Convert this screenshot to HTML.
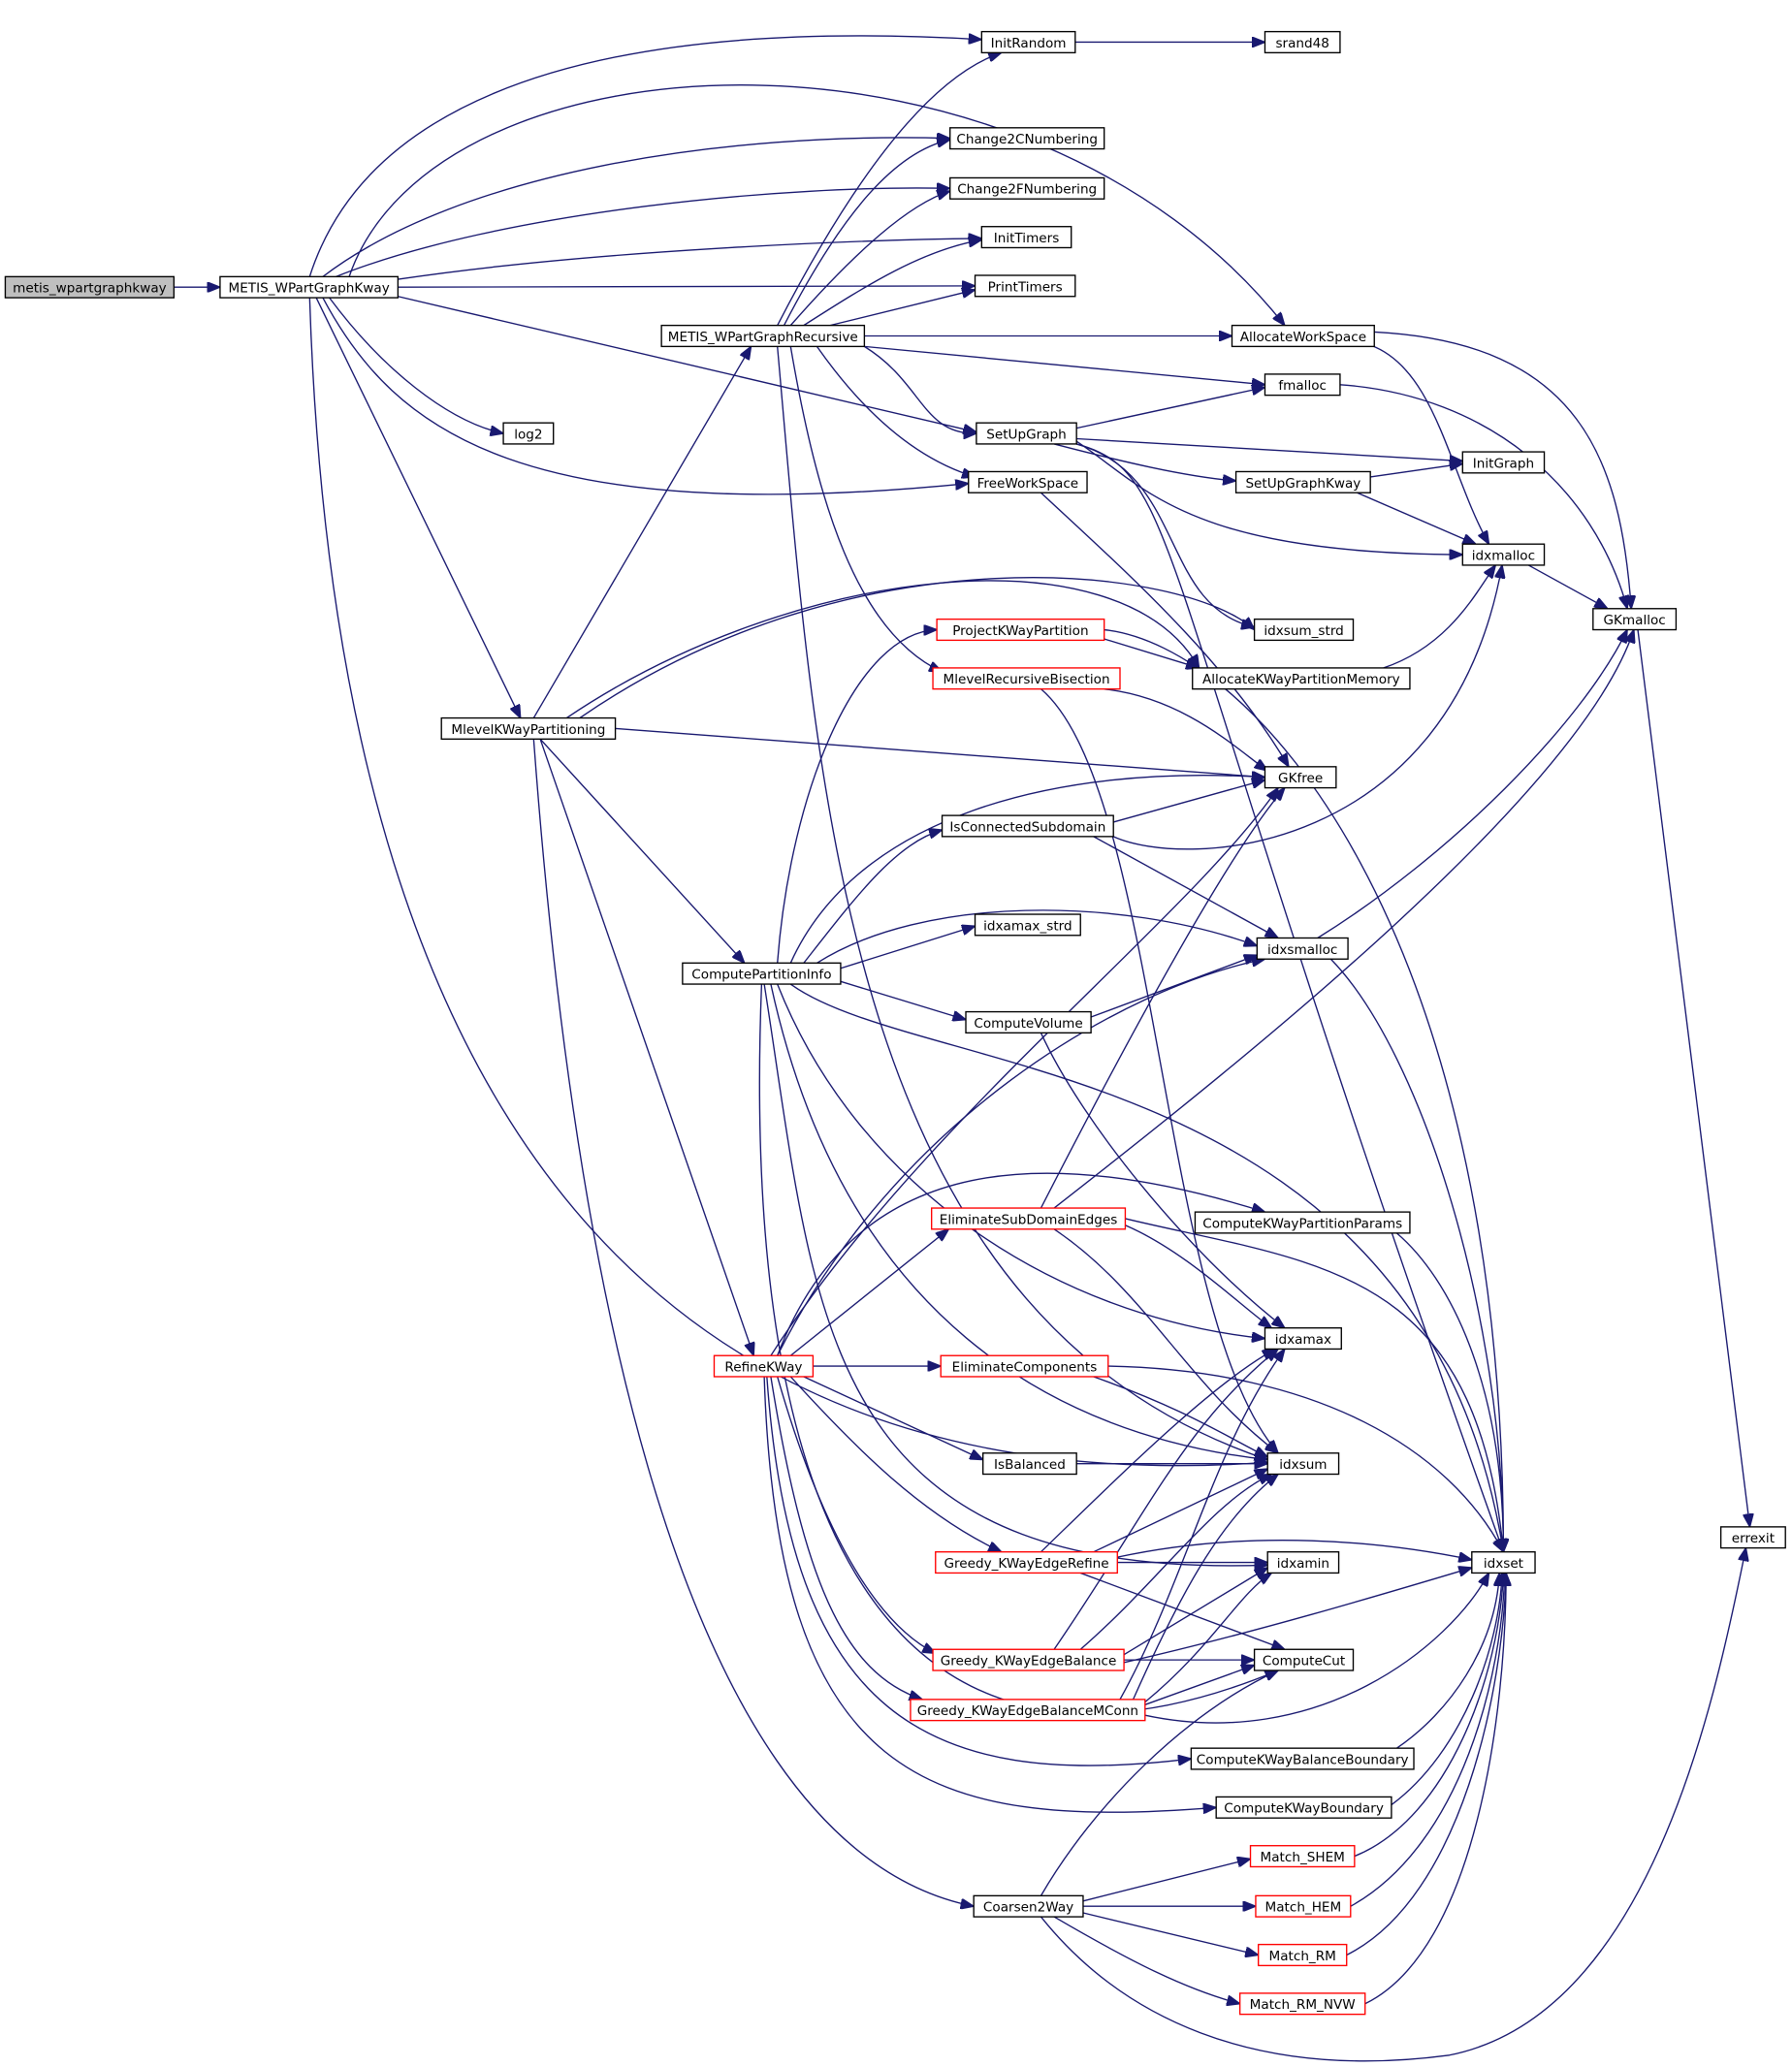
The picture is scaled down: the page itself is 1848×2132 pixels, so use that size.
<!DOCTYPE html>
<html><head><meta charset="utf-8"><style>
html,body{margin:0;padding:0;background:#fff;}
svg{display:block;}
text{font-family:"DejaVu Sans","Liberation Sans",sans-serif;font-size:10px;fill:#000;}
.e{fill:none;stroke:#191970;stroke-width:1;}
.n{fill:#fff;stroke:#000;stroke-width:1;}
.r{fill:#fff;stroke:#ff0000;stroke-width:1;}
</style></head><body>
<svg width="1848" height="2132" viewBox="0 0 1360 1569" xmlns="http://www.w3.org/2000/svg">
<defs><marker id="a" markerWidth="10" markerHeight="8" refX="10" refY="4" orient="auto" markerUnits="userSpaceOnUse"><path d="M0,0 L10,4 L0,8 z" fill="#191970" stroke="#191970"/></marker></defs>
<g class="e" marker-end="url(#a)">
<path d="M132,218 L167,218"/>
<path d="M816,32 L960,32"/>
<path d="M235,210 C270,100 400,10 745,30"/>
<path d="M245,210 C350,130 550,100 721,105"/>
<path d="M255,210 C380,160 600,140 721,143"/>
<path d="M302,212 C450,190 650,182 745,181"/>
<path d="M302,218 L740,217"/>
<path d="M265,210 C330,20 780,0 975,247"/>
<path d="M302,225 L741,328"/>
<path d="M250,226 C290,280 340,320 382,329"/>
<path d="M245,226 C300,330 400,400 735,367"/>
<path d="M240,226 L395,545"/>
<path d="M235,226 C250,700 400,1150 962,1110"/>
<path d="M590,247 C640,150 700,60 760,40"/>
<path d="M595,247 C640,160 680,115 721,106"/>
<path d="M600,247 C650,190 690,155 721,145"/>
<path d="M610,247 C660,215 700,190 745,182"/>
<path d="M630,247 L740,220"/>
<path d="M656,255 L935,255"/>
<path d="M656,263 L960,292"/>
<path d="M656,263 C700,290 700,330 741,329"/>
<path d="M620,263 C660,320 700,350 740,362"/>
<path d="M600,263 C620,380 650,480 715,510"/>
<path d="M590,263 C620,600 640,1000 962,1108"/>
<path d="M817,325 L960,294"/>
<path d="M817,333 L1110,350"/>
<path d="M800,337 C850,350 900,362 938,365"/>
<path d="M817,335 C870,370 900,420 1110,421"/>
<path d="M817,337 C900,360 880,460 952,476"/>
<path d="M817,337 C900,360 870,420 1141,1178"/>
<path d="M1040,362 L1110,352"/>
<path d="M1030,374 L1120,413"/>
<path d="M1043,252 C1200,260 1230,350 1238,462"/>
<path d="M1040,262 C1090,280 1100,360 1130,413"/>
<path d="M1017,292 C1130,300 1210,370 1235,462"/>
<path d="M1160,429 L1220,462"/>
<path d="M1243,478 L1328,1159"/>
<path d="M790,374 C850,430 930,500 978,582"/>
<path d="M838,485 L910,507"/>
<path d="M838,478 C950,490 1141,700 1141,1178"/>
<path d="M838,523 C900,530 940,570 962,585"/>
<path d="M790,523 C880,600 880,1000 970,1103"/>
<path d="M1050,507 C1100,490 1120,450 1135,429"/>
<path d="M405,545 L570,263"/>
<path d="M430,545 C600,430 850,400 910,507"/>
<path d="M440,545 C650,400 900,430 952,478"/>
<path d="M467,553 L960,590"/>
<path d="M410,561 L565,731"/>
<path d="M410,561 L572,1029"/>
<path d="M405,561 C430,900 500,1400 739,1447"/>
<path d="M590,731 C600,600 650,480 711,478"/>
<path d="M600,731 C650,620 800,580 960,590"/>
<path d="M610,731 C650,680 680,640 715,630"/>
<path d="M620,731 C700,680 850,680 954,718"/>
<path d="M638,735 L740,703"/>
<path d="M638,745 L733,774"/>
<path d="M600,747 C700,820 1080,800 1141,1178"/>
<path d="M590,747 C650,900 800,1000 960,1016"/>
<path d="M585,747 C640,1000 800,1090 962,1108"/>
<path d="M580,747 C620,1000 620,1200 962,1188"/>
<path d="M578,747 C560,1200 700,1380 970,1268"/>
<path d="M845,624 L960,592"/>
<path d="M845,635 C900,660 1100,650 1140,429"/>
<path d="M830,635 L970,712"/>
<path d="M828,772 L954,725"/>
<path d="M790,784 C820,850 900,950 975,1008"/>
<path d="M1000,712 C1100,650 1200,550 1235,478"/>
<path d="M1010,728 C1080,800 1141,1000 1141,1178"/>
<path d="M790,917 C850,800 930,650 975,598"/>
<path d="M800,917 C950,800 1200,600 1240,478"/>
<path d="M854,930 C900,950 940,990 965,1008"/>
<path d="M800,933 C870,980 900,1050 970,1103"/>
<path d="M854,925 C1000,960 1120,960 1141,1178"/>
<path d="M1060,936 C1100,970 1141,1050 1141,1178"/>
<path d="M590,1029 C650,870 800,870 960,920"/>
<path d="M600,1029 L720,933"/>
<path d="M590,1029 C680,850 850,750 960,728"/>
<path d="M585,1029 C700,850 900,700 970,598"/>
<path d="M617,1037 L714,1037"/>
<path d="M610,1045 L746,1108"/>
<path d="M600,1045 C650,1100 700,1150 760,1178"/>
<path d="M590,1045 C620,1150 660,1230 710,1255"/>
<path d="M585,1045 C610,1200 640,1270 700,1290"/>
<path d="M582,1045 C600,1300 700,1360 904,1335"/>
<path d="M580,1045 C590,1350 700,1390 923,1372"/>
<path d="M830,1045 C900,1070 930,1090 962,1106"/>
<path d="M841,1037 C1000,1040 1100,1100 1141,1178"/>
<path d="M817,1111 L962,1111"/>
<path d="M790,1178 C850,1120 920,1050 968,1024"/>
<path d="M830,1178 L962,1115"/>
<path d="M848,1186 L962,1186"/>
<path d="M848,1182 C950,1160 1050,1170 1117,1184"/>
<path d="M820,1194 L975,1252"/>
<path d="M800,1252 C870,1150 900,1080 970,1024"/>
<path d="M820,1252 C880,1200 920,1140 965,1119"/>
<path d="M853,1256 L962,1190"/>
<path d="M853,1262 C950,1240 1050,1210 1117,1190"/>
<path d="M853,1260 L952,1260"/>
<path d="M850,1290 C900,1200 920,1100 975,1024"/>
<path d="M860,1290 C900,1200 930,1150 970,1119"/>
<path d="M869,1292 C920,1250 940,1210 965,1194"/>
<path d="M869,1294 L952,1264"/>
<path d="M869,1302 C1000,1330 1100,1250 1130,1194"/>
<path d="M1060,1327 C1100,1300 1135,1250 1138,1194"/>
<path d="M1056,1370 C1110,1330 1138,1250 1140,1194"/>
<path d="M1028,1409 C1100,1380 1138,1270 1141,1194"/>
<path d="M1025,1447 C1110,1400 1140,1270 1142,1194"/>
<path d="M1022,1484 C1110,1440 1141,1280 1143,1194"/>
<path d="M1036,1521 C1120,1480 1143,1300 1143,1194"/>
<path d="M822,1443 L949,1411"/>
<path d="M822,1447 L953,1447"/>
<path d="M822,1452 L955,1484"/>
<path d="M800,1455 C860,1490 900,1510 941,1521"/>
<path d="M790,1455 C850,1530 950,1580 1100,1560 C1250,1530 1300,1300 1325,1175"/>
<path d="M790,1439 C830,1370 900,1300 970,1268"/>
</g>
<g>
<rect x="4" y="210" width="128" height="16" fill="#bfbfbf" stroke="#000"/><text x="68" y="222" text-anchor="middle">metis_wpartgraphkway</text>
<rect class="n" x="167" y="210" width="135" height="16"/><text x="234.5" y="222" text-anchor="middle">METIS_WPartGraphKway</text>
<rect class="n" x="745" y="24" width="71" height="16"/><text x="780.5" y="36" text-anchor="middle">InitRandom</text>
<rect class="n" x="960" y="24" width="57" height="16"/><text x="988.5" y="36" text-anchor="middle">srand48</text>
<rect class="n" x="721" y="97" width="117" height="16"/><text x="779.5" y="109" text-anchor="middle">Change2CNumbering</text>
<rect class="n" x="721" y="135" width="117" height="16"/><text x="779.5" y="147" text-anchor="middle">Change2FNumbering</text>
<rect class="n" x="745" y="172" width="68" height="16"/><text x="779" y="184" text-anchor="middle">InitTimers</text>
<rect class="n" x="740" y="209" width="76" height="16"/><text x="778" y="221" text-anchor="middle">PrintTimers</text>
<rect class="n" x="502" y="247" width="154" height="16"/><text x="579" y="259" text-anchor="middle">METIS_WPartGraphRecursive</text>
<rect class="n" x="935" y="247" width="108" height="16"/><text x="989" y="259" text-anchor="middle">AllocateWorkSpace</text>
<rect class="n" x="960" y="284" width="57" height="16"/><text x="988.5" y="296" text-anchor="middle">fmalloc</text>
<rect class="n" x="741" y="321" width="76" height="16"/><text x="779" y="333" text-anchor="middle">SetUpGraph</text>
<rect class="n" x="382" y="321" width="38" height="16"/><text x="401" y="333" text-anchor="middle">log2</text>
<rect class="n" x="1110" y="343" width="62" height="16"/><text x="1141" y="355" text-anchor="middle">InitGraph</text>
<rect class="n" x="938" y="358" width="102" height="16"/><text x="989" y="370" text-anchor="middle">SetUpGraphKway</text>
<rect class="n" x="735" y="358" width="90" height="16"/><text x="780" y="370" text-anchor="middle">FreeWorkSpace</text>
<rect class="n" x="1110" y="413" width="62" height="16"/><text x="1141" y="425" text-anchor="middle">idxmalloc</text>
<rect class="n" x="1209" y="462" width="63" height="16"/><text x="1240.5" y="474" text-anchor="middle">GKmalloc</text>
<rect class="n" x="952" y="470" width="75" height="16"/><text x="989.5" y="482" text-anchor="middle">idxsum_strd</text>
<rect class="r" x="711" y="470" width="127" height="16"/><text x="774.5" y="482" text-anchor="middle">ProjectKWayPartition</text>
<rect class="n" x="905" y="507" width="165" height="16"/><text x="987.5" y="519" text-anchor="middle">AllocateKWayPartitionMemory</text>
<rect class="r" x="708" y="507" width="142" height="16"/><text x="779" y="519" text-anchor="middle">MlevelRecursiveBisection</text>
<rect class="n" x="335" y="545" width="132" height="16"/><text x="401" y="557" text-anchor="middle">MlevelKWayPartitioning</text>
<rect class="n" x="960" y="582" width="54" height="16"/><text x="987" y="594" text-anchor="middle">GKfree</text>
<rect class="n" x="715" y="619" width="130" height="16"/><text x="780" y="631" text-anchor="middle">IsConnectedSubdomain</text>
<rect class="n" x="740" y="694" width="80" height="16"/><text x="780" y="706" text-anchor="middle">idxamax_strd</text>
<rect class="n" x="954" y="712" width="69" height="16"/><text x="988.5" y="724" text-anchor="middle">idxsmalloc</text>
<rect class="n" x="518" y="731" width="120" height="16"/><text x="578" y="743" text-anchor="middle">ComputePartitionInfo</text>
<rect class="n" x="733" y="768" width="95" height="16"/><text x="780.5" y="780" text-anchor="middle">ComputeVolume</text>
<rect class="r" x="707" y="917" width="147" height="16"/><text x="780.5" y="929" text-anchor="middle">EliminateSubDomainEdges</text>
<rect class="n" x="907" y="920" width="163" height="16"/><text x="988.5" y="932" text-anchor="middle">ComputeKWayPartitionParams</text>
<rect class="n" x="960" y="1008" width="58" height="16"/><text x="989" y="1020" text-anchor="middle">idxamax</text>
<rect class="r" x="542" y="1029" width="75" height="16"/><text x="579.5" y="1041" text-anchor="middle">RefineKWay</text>
<rect class="r" x="714" y="1029" width="127" height="16"/><text x="777.5" y="1041" text-anchor="middle">EliminateComponents</text>
<rect class="n" x="746" y="1103" width="71" height="16"/><text x="781.5" y="1115" text-anchor="middle">IsBalanced</text>
<rect class="n" x="962" y="1103" width="54" height="16"/><text x="989" y="1115" text-anchor="middle">idxsum</text>
<rect class="n" x="1306" y="1159" width="49" height="16"/><text x="1330.5" y="1171" text-anchor="middle">errexit</text>
<rect class="r" x="710" y="1178" width="138" height="16"/><text x="779" y="1190" text-anchor="middle">Greedy_KWayEdgeRefine</text>
<rect class="n" x="962" y="1178" width="54" height="16"/><text x="989" y="1190" text-anchor="middle">idxamin</text>
<rect class="n" x="1117" y="1178" width="48" height="16"/><text x="1141" y="1190" text-anchor="middle">idxset</text>
<rect class="r" x="708" y="1252" width="145" height="16"/><text x="780.5" y="1264" text-anchor="middle">Greedy_KWayEdgeBalance</text>
<rect class="n" x="952" y="1252" width="75" height="16"/><text x="989.5" y="1264" text-anchor="middle">ComputeCut</text>
<rect class="r" x="691" y="1290" width="178" height="16"/><text x="780" y="1302" text-anchor="middle">Greedy_KWayEdgeBalanceMConn</text>
<rect class="n" x="904" y="1327" width="169" height="16"/><text x="988.5" y="1339" text-anchor="middle">ComputeKWayBalanceBoundary</text>
<rect class="n" x="923" y="1364" width="133" height="16"/><text x="989.5" y="1376" text-anchor="middle">ComputeKWayBoundary</text>
<rect class="r" x="949" y="1401" width="79" height="16"/><text x="988.5" y="1413" text-anchor="middle">Match_SHEM</text>
<rect class="n" x="739" y="1439" width="83" height="16"/><text x="780.5" y="1451" text-anchor="middle">Coarsen2Way</text>
<rect class="r" x="953" y="1439" width="72" height="16"/><text x="989" y="1451" text-anchor="middle">Match_HEM</text>
<rect class="r" x="955" y="1476" width="67" height="16"/><text x="988.5" y="1488" text-anchor="middle">Match_RM</text>
<rect class="r" x="941" y="1513" width="95" height="16"/><text x="988.5" y="1525" text-anchor="middle">Match_RM_NVW</text>
</g>
</svg>
</body></html>
